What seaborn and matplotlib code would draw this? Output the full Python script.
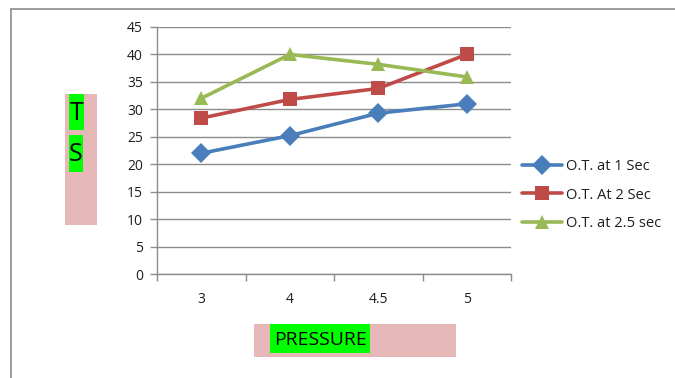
import matplotlib
matplotlib.use("Agg")
import matplotlib.pyplot as plt
from matplotlib.patches import Rectangle
from matplotlib.lines import Line2D
import seaborn as sns
import pandas as pd

# Chart data
pressure = ["3", "4", "4.5", "5"]
series_names = ["O.T. at 1 Sec", "O.T. At 2 Sec", "O.T. at 2.5 sec"]
ot_1_sec = [22.0, 25.2, 29.3, 31.0]
ot_2_sec = [28.4, 31.8, 33.8, 40.0]
ot_2_5_sec = [32.0, 40.0, 38.2, 35.9]
y_ticks = [0, 5, 10, 15, 20, 25, 30, 35, 40, 45]

colors = ["#4A7EBB", "#BE4B48", "#98B954"]
markers = ["D", "s", "^"]

rows = []
for name, vals in zip(series_names, [ot_1_sec, ot_2_sec, ot_2_5_sec]):
    for i, (p, v) in enumerate(zip(pressure, vals)):
        rows.append({"pos": i, "pressure": p, "value": v, "series": name})
df = pd.DataFrame(rows)

sns.set_theme(style="white")
plt.rcParams["font.family"] = ["Open Sans", "DejaVu Sans"]

W, H = 675, 378
fig = plt.figure(figsize=(W / 100, H / 100), dpi=100)
fig.patch.set_facecolor("white")

def fx(px):
    return px / W

def fy(py):
    return 1 - py / H

ax = fig.add_axes([fx(157), fy(274), fx(511) - fx(157), fy(27) - fy(274)])

sns.lineplot(
    data=df, x="pos", y="value", hue="series", style="series",
    palette=dict(zip(series_names, colors)),
    markers=dict(zip(series_names, markers)),
    dashes=False, linewidth=2.6, markersize=10.5,
    markeredgewidth=0, ax=ax, legend=False,
)

grid_color = "#8C8C8C"
text_color = "#1E1E1E"
ax.set_ylim(0, 45)
ax.set_yticks(y_ticks)
ax.set_yticklabels([str(t) for t in y_ticks])
ax.set_xlim(-0.5, len(pressure) - 0.5)
# tick marks sit between categories; labels sit under each category
ax.set_xticks([i - 0.5 for i in range(len(pressure) + 1)])
ax.set_xticklabels([])
ax.set_xticks(range(len(pressure)), minor=True)
ax.set_xticklabels(pressure, minor=True)
ax.tick_params(axis="x", which="major", length=5, width=1, color=grid_color, direction="out", bottom=True)
ax.tick_params(axis="x", which="minor", length=0, pad=13, labelsize=10, labelcolor=text_color)
ax.tick_params(axis="y", length=5, width=1, color=grid_color, direction="out", left=True, pad=5,
               labelsize=10, labelcolor=text_color)
ax.set_xlabel("")
ax.set_ylabel("")
ax.yaxis.grid(True, color=grid_color, linewidth=1)
ax.set_axisbelow(True)
for s in ["top", "right"]:
    ax.spines[s].set_visible(False)
for s in ["left", "bottom"]:
    ax.spines[s].set_color(grid_color)
    ax.spines[s].set_linewidth(1)

# legend
handles = [Line2D([], [], color=c, marker=m, linewidth=2.6, markersize=10.5, markeredgewidth=0)
           for c, m in zip(colors, markers)]
fig.legend(handles, series_names, loc="center left", bbox_to_anchor=(fx(509), fy(195)),
           frameon=False, fontsize=10.5, handlelength=2.7, labelspacing=0.95,
           handletextpad=0.3, labelcolor=text_color)

# y-axis title block
fig.patches.append(Rectangle((fx(65), fy(225)), fx(97) - fx(65), fy(94) - fy(225),
                             transform=fig.transFigure, facecolor="#E6B8B7", edgecolor="none"))
fig.patches.append(Rectangle((fx(69), fy(130)), fx(84) - fx(69), fy(94) - fy(130),
                             transform=fig.transFigure, facecolor="#00FF00", edgecolor="none"))
fig.patches.append(Rectangle((fx(69), fy(172)), fx(83) - fx(69), fy(135) - fy(172),
                             transform=fig.transFigure, facecolor="#00FF00", edgecolor="none"))
fig.text(fx(76.5), fy(113), "T", fontsize=18, ha="center", va="center", color="black")
fig.text(fx(76), fy(155), "S", fontsize=18, ha="center", va="center", color="black")

# x-axis title block
fig.patches.append(Rectangle((fx(254), fy(357)), fx(456) - fx(254), fy(324) - fy(357),
                             transform=fig.transFigure, facecolor="#E6B8B7", edgecolor="none"))
fig.patches.append(Rectangle((fx(270), fy(353)), fx(370) - fx(270), fy(324) - fy(353),
                             transform=fig.transFigure, facecolor="#00FF00", edgecolor="none"))
fig.text(fx(320), fy(340), "PRESSURE", fontsize=14, ha="center", va="center", color="black")

# outer frame
fig.lines.append(Line2D([fx(11), fx(11)], [fy(9), 0], transform=fig.transFigure,
                        color="#8C8C8C", linewidth=1.2))
fig.lines.append(Line2D([fx(11), 1], [fy(9), fy(9)], transform=fig.transFigure,
                        color="#8C8C8C", linewidth=1.2))

fig.savefig("out.png", dpi=100)
